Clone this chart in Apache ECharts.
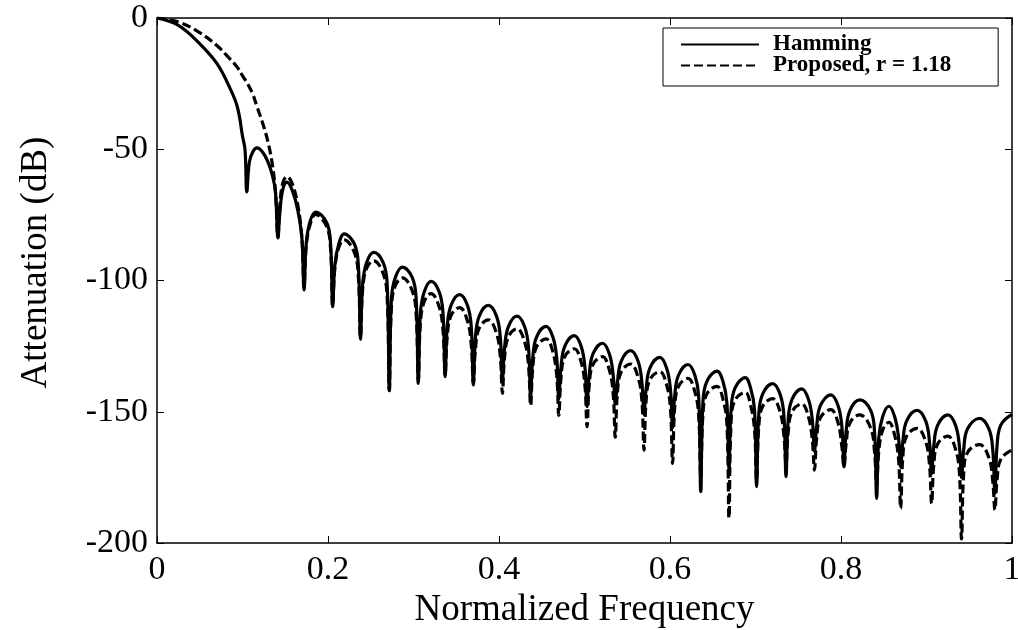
<!DOCTYPE html>
<html>
<head>
<meta charset="utf-8">
<title>Attenuation</title>
<script src="https://cdn.jsdelivr.net/npm/echarts/dist/echarts.min.js"></script>
<style>
  html, body { margin: 0; padding: 0; background: #fff; }
  #chart { width: 1018px; height: 630px; }
</style>
</head>
<body>
<div id="chart"></div>
<script>
// normalized frequency: main lobe, then for each sidelobe two points up the
// left flank, the peak, two points down the right flank and the null
var freq = [
  0, 0.025, 0.05, 0.07, 0.085, 0.094, 0.1, 0.103, 0.105, 0.108, 0.112, 0.117, 0.124, 0.13, 0.135, 0.1385, 0.1415,
  0.1435, 0.147, 0.152, 0.158, 0.1645, 0.1695, 0.172,
  0.1745, 0.179, 0.1855, 0.1985, 0.203, 0.2055,
  0.208, 0.2125, 0.219, 0.231, 0.2355, 0.238,
  0.2405, 0.245, 0.2535, 0.2647, 0.2692, 0.2717,
  0.2742, 0.2787, 0.287, 0.2986, 0.3031, 0.3056,
  0.3081, 0.3126, 0.3205, 0.330, 0.3345, 0.337,
  0.3395, 0.344, 0.354, 0.363, 0.3675, 0.370,
  0.3725, 0.377, 0.3875, 0.397, 0.4015, 0.404,
  0.4065, 0.411, 0.421, 0.430, 0.4345, 0.437,
  0.4395, 0.444, 0.455, 0.463, 0.4675, 0.470,
  0.4725, 0.477, 0.488, 0.496, 0.5005, 0.503,
  0.5055, 0.510, 0.521, 0.529, 0.5335, 0.536,
  0.5385, 0.543, 0.554, 0.5626, 0.5671, 0.5696,
  0.5721, 0.5766, 0.588, 0.596, 0.6005, 0.603,
  0.6055, 0.610, 0.621, 0.629, 0.6335, 0.636,
  0.6385, 0.643, 0.655, 0.662, 0.6665, 0.669,
  0.6715, 0.676, 0.688, 0.6943, 0.6988, 0.7013,
  0.7038, 0.7083, 0.720, 0.7287, 0.7332, 0.7357,
  0.7382, 0.7427, 0.754, 0.762, 0.7665, 0.769,
  0.7715, 0.776, 0.788, 0.7965, 0.801, 0.8035,
  0.806, 0.8105, 0.822, 0.8347, 0.8392, 0.8417,
  0.8442, 0.8487, 0.856, 0.8628, 0.8673, 0.8698,
  0.8723, 0.8768, 0.889, 0.899, 0.9035, 0.906,
  0.9085, 0.913, 0.925, 0.934, 0.9385, 0.941,
  0.9435, 0.948, 0.962, 0.973, 0.9775, 0.980,
  0.9825, 0.987, 1.0
];

// Hamming window, attenuation in dB
var hamming = [
  0, -2.8, -9.8, -17.3, -26.5, -33.9, -45, -50.3, -66.2, -55, -51, -49.5, -51.3, -55, -60, -66, -83.8,
  -75, -65.5, -62.5, -65.5, -73, -84, -103.6,
  -86, -77.5, -73.9, -78, -86, -110,
  -94.2, -86.2, -82.2, -86.2, -94.2, -122.4,
  -101.3, -93.3, -89.3, -93.3, -101.3, -142,
  -106.9, -98.9, -94.9, -98.9, -106.9, -139.2,
  -112.3, -104.3, -100.3, -104.3, -112.3, -136.6,
  -117.4, -109.4, -105.4, -109.4, -117.4, -139.8,
  -121.5, -113.5, -109.5, -113.5, -121.5, -138,
  -125.6, -117.6, -113.6, -117.6, -125.6, -144,
  -129.5, -121.5, -117.5, -121.5, -129.5, -145,
  -133, -125, -121, -125, -133, -148,
  -135.9, -127.9, -123.9, -127.9, -135.9, -147,
  -138.7, -130.7, -126.7, -130.7, -138.7, -151,
  -141.3, -133.3, -129.3, -133.3, -141.3, -156,
  -144, -136, -132, -136, -144, -180.4,
  -146.5, -138.5, -134.5, -138.5, -146.5, -172,
  -149, -141, -137, -141, -149, -178.5,
  -151.3, -143.3, -139.3, -143.3, -151.3, -174.7,
  -153.3, -145.3, -141.3, -145.3, -153.3, -165,
  -155.6, -147.6, -143.6, -147.6, -155.6, -171,
  -157.5, -149.5, -145.5, -149.5, -157.5, -183,
  -159.9, -151.9, -147.9, -151.9, -159.9, -171,
  -161.5, -153.5, -149.5, -153.5, -161.5, -173.5,
  -163.2, -155.2, -151.2, -155.2, -163.2, -175,
  -164.5, -156.5, -152.5, -156.5, -164.5, -181,
  -163, -155, -151
];

// proposed window, r = 1.18
var proposed = [
  0, -1.5, -5.6, -10.5, -15.5, -18.8, -22, -23.5, -24.5, -26.3, -29, -33.8, -40.5, -47.5, -56, -66, -83.3,
  -72, -63, -60.4, -63, -71, -84, -102.5,
  -87, -78.8, -74.8, -79.5, -88, -109.5,
  -95.5, -87.5, -84.5, -89.5, -98.5, -121.5,
  -103.5, -95.5, -92.5, -97.5, -106.5, -141.5,
  -110, -102, -99, -104, -113, -138,
  -116, -108, -105, -110, -119, -136,
  -121.3, -113.3, -110.3, -115.3, -124.3, -139,
  -126, -118, -115, -120, -129, -143,
  -129.4, -121.4, -118.4, -123.4, -132.4, -147.6,
  -133.2, -125.2, -122.2, -127.2, -136.2, -151.4,
  -137, -129, -126, -131, -140, -155.7,
  -140, -132, -129, -134, -143, -159.7,
  -142.8, -134.8, -131.8, -136.8, -145.8, -164.6,
  -145.7, -137.7, -134.7, -139.7, -148.7, -169.7,
  -148.3, -140.3, -137.3, -142.3, -151.3, -175,
  -151.3, -143.3, -140.3, -145.3, -154.3, -190.5,
  -153.6, -145.6, -142.6, -147.6, -156.6, -176,
  -156, -148, -145, -150, -159, -170,
  -158, -150, -147, -152, -161, -172.2,
  -160.2, -152.2, -149.2, -154.2, -163.2, -170.9,
  -162.2, -154.2, -151.2, -156.2, -165.2, -178,
  -165, -157, -154, -159, -168, -186.8,
  -167.3, -159.3, -156.3, -161.3, -170.3, -185,
  -170.3, -162.3, -159.3, -164.3, -173.3, -198.4,
  -173.5, -165.5, -162.5, -167.5, -176.5, -187.4,
  -176, -168, -164.5
];

var seriesNames = ['Hamming', 'Proposed, r = 1.18'];

function pairs(ys) {
  return freq.map(function (f, i) { return [f, ys[i]]; });
}

var serif = 'Liberation Serif';
var chart = echarts.init(document.getElementById('chart'));

chart.setOption({
  animation: false,
  backgroundColor: '#fff',
  // keep the plot box fixed, labels may sit near the page edge
  grid: { left: 157, right: 6, top: 18, bottom: 87, outerBoundsMode: 'none' },
  legend: {
    orient: 'vertical',
    left: 663,
    top: 28,
    data: seriesNames,
    itemWidth: 78,
    itemHeight: 14,
    itemGap: -2,
    padding: [5, 47, 9, 17],
    borderColor: '#000',
    borderWidth: 1,
    backgroundColor: '#fff',
    itemStyle: { opacity: 0 },
    textStyle: {
      fontFamily: serif,
      fontWeight: 'bold',
      fontSize: 23,
      color: '#000',
      padding: [0, 0, 0, 9]
    }
  },
  xAxis: [{
    type: 'value',
    min: 0,
    max: 1,
    interval: 0.2,
    name: 'Normalized Frequency',
    nameLocation: 'middle',
    nameGap: 46,
    nameTextStyle: { fontFamily: serif, fontSize: 37, color: '#000' },
    axisLine: { onZero: false, lineStyle: { color: '#000', width: 1.5 } },
    axisTick: { inside: true, length: 7, lineStyle: { color: '#000' } },
    axisLabel: { fontFamily: serif, fontSize: 34, color: '#000', margin: 10 },
    splitLine: { show: false }
  }, {
    type: 'value',
    position: 'top',
    min: 0,
    max: 1,
    interval: 0.2,
    axisLine: { onZero: false, lineStyle: { color: '#000', width: 1.5 } },
    axisTick: { inside: true, length: 7, lineStyle: { color: '#000' } },
    axisLabel: { show: false },
    splitLine: { show: false }
  }],
  yAxis: [{
    type: 'value',
    min: -200,
    max: 0,
    interval: 50,
    name: 'Attenuation (dB)',
    nameLocation: 'middle',
    nameGap: 102,
    nameTextStyle: { fontFamily: serif, fontSize: 37, color: '#000', padding: [0, 0, 0, 36] },
    axisLine: { show: true, onZero: false, lineStyle: { color: '#000', width: 1.5 } },
    axisTick: { show: true, inside: true, length: 7, lineStyle: { color: '#000' } },
    axisLabel: { fontFamily: serif, fontSize: 34, color: '#000', margin: 9 },
    splitLine: { show: false }
  }, {
    type: 'value',
    position: 'right',
    min: -200,
    max: 0,
    interval: 50,
    axisLine: { show: true, onZero: false, lineStyle: { color: '#000', width: 1.5 } },
    axisTick: { show: true, inside: true, length: 7, lineStyle: { color: '#000' } },
    axisLabel: { show: false },
    splitLine: { show: false }
  }],
  series: [{
    name: seriesNames[0],
    type: 'line',
    data: pairs(hamming),
    symbol: 'none',
    smooth: 0.4,
    lineStyle: { color: '#000', width: 3.2 },
    itemStyle: { color: '#000' }
  }, {
    name: seriesNames[1],
    type: 'line',
    data: pairs(proposed),
    symbol: 'none',
    smooth: 0.4,
    lineStyle: { color: '#000', width: 3.2, type: [9, 4] },
    itemStyle: { color: '#000' }
  }]
});
</script>
</body>
</html>
